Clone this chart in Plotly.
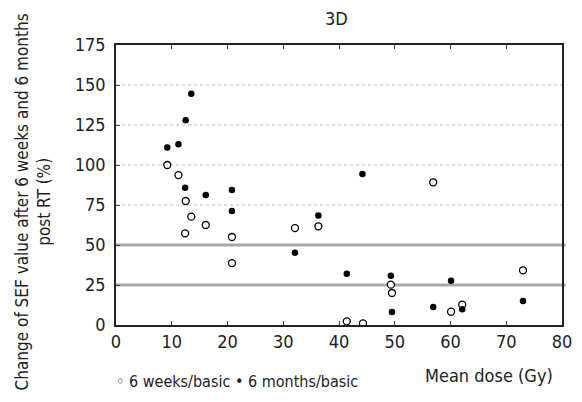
import plotly.graph_objects as go

weeks_x = [9.2, 11.2, 12.5, 13.5, 16.1, 12.4, 20.8, 20.8, 32.1, 36.3, 41.4, 44.3, 56.9, 49.3, 49.5, 60.1, 62.1, 73.0]
weeks_y = [100.0, 93.7, 77.5, 67.7, 62.5, 57.3, 55.0, 38.7, 60.6, 61.7, 2.3, 1.0, 89.2, 25.2, 20.0, 8.3, 12.7, 34.2]
months_x = [9.2, 11.2, 12.4, 12.5, 13.5, 16.1, 20.8, 20.8, 32.1, 36.3, 41.4, 44.2, 49.3, 49.5, 56.9, 60.1, 62.1, 73.0]
months_y = [111.0, 113.0, 85.8, 127.9, 144.6, 81.2, 84.4, 71.2, 45.2, 68.5, 32.0, 94.4, 30.8, 8.1, 11.2, 27.7, 9.8, 15.0]
x_ticks = [0, 10, 20, 30, 40, 50, 60, 70, 80]
y_ticks = [0, 25, 50, 75, 100, 125, 150, 175]
thick_lines = [25, 50]
dotted_lines = [75, 100, 125, 150]

FONT = "Liberation Sans Narrow, DejaVu Sans Condensed, Arial Narrow, sans-serif"

# the page body has an 8px margin; the figure is sized to compensate
OFF = 8

fig = go.Figure()
fig.add_trace(go.Scatter(x=weeks_x, y=weeks_y, mode="markers", name="6 weeks/basic",
                         marker=dict(symbol="circle", size=7, color="white",
                                     line=dict(color="black", width=1.3))))
fig.add_trace(go.Scatter(x=months_x, y=months_y, mode="markers", name="6 months/basic",
                         marker=dict(symbol="circle", size=6.5, color="black",
                                     line=dict(color="black", width=0))))

for v in thick_lines:
    fig.add_shape(type="line", xref="paper", x0=0, x1=1.008, yref="y", y0=v, y1=v,
                  line=dict(color="#a8a8a8", width=3), layer="below")
for v in dotted_lines:
    fig.add_shape(type="line", xref="paper", x0=0, x1=1, yref="y", y0=v, y1=v,
                  line=dict(color="#bbbbbb", width=1, dash="dot"), layer="below")

fig.update_layout(
    width=582 - OFF, height=402 - OFF,
    margin=dict(l=116 - OFF, r=18 - OFF, t=45 - OFF, b=77),
    plot_bgcolor="white", paper_bgcolor="white",
    showlegend=False,
    font=dict(family=FONT, color="#222222", size=17),
    xaxis=dict(range=[0, 80], tickvals=x_ticks, ticks="inside", ticklen=4,
               showline=True, linecolor="#222222", linewidth=1.5, mirror="ticks",
               showgrid=False, zeroline=False, tickfont=dict(size=18)),
    yaxis=dict(range=[0, 175], tickvals=y_ticks, ticks="inside", ticklen=4,
               showline=True, linecolor="#222222", linewidth=1.5, mirror=True,
               showgrid=False, zeroline=False, tickfont=dict(size=18),
               ticklabelstandoff=5),
    annotations=[
        dict(text="3D", xref="paper", yref="paper", x=0.495, y=1.096, showarrow=False,
             font=dict(size=18), xanchor="center", yanchor="middle"),
        dict(text="Mean dose (Gy)", xref="paper", yref="paper", x=0.836, y=-0.182,
             showarrow=False, font=dict(size=18), xanchor="center", yanchor="middle"),
        dict(text="◦ 6 weeks/basic • 6 months/basic", xref="paper", yref="paper",
             x=-0.004, y=-0.2, showarrow=False, font=dict(size=16),
             xanchor="left", yanchor="middle"),
        dict(text="Change of SEF value after 6 weeks and 6 months<br>post RT (%)",
             xref="paper", yref="paper", x=-0.187, y=0.44, textangle=-90,
             showarrow=False, font=dict(size=17), xanchor="center", yanchor="middle"),
    ],
)

fig.write_html("out.html")
